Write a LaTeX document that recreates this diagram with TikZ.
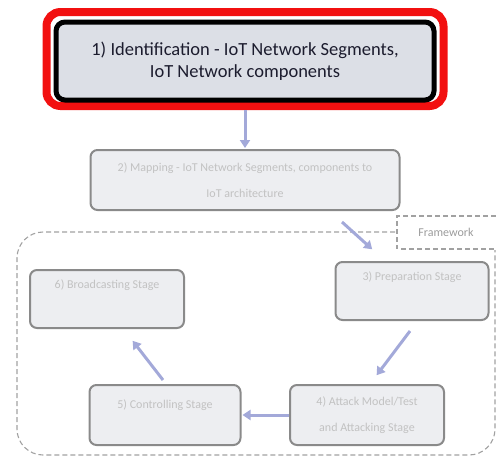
\documentclass[tikz,border=0pt]{standalone}
\usepackage{fontspec}
\setmainfont{Carlito}
\usetikzlibrary{arrows.meta}
\definecolor{boxfill}{HTML}{EDEEF1}
\definecolor{topfill}{HTML}{DCDFE6}
\definecolor{boxline}{HTML}{8A8A8A}
\definecolor{fadetext}{HTML}{C2C2C2}
\definecolor{flowcol}{HTML}{A3A9D9}
\definecolor{topred}{HTML}{F21010}
\definecolor{toptext}{HTML}{1C1C2E}
\tikzset{
  stagebox/.style={draw=boxline, line width=2pt, fill=boxfill, rounded corners=7pt,
    align=center, text=fadetext, font=\fontsize{12}{26}\selectfont, inner sep=0pt},
  flow/.style={draw=flowcol, line width=3pt, -{Triangle[length=8pt,width=10pt]}, shorten >=1pt},
  frameline/.style={draw=boxline!80, line width=1.1pt, dash pattern=on 5pt off 3pt},
}
\begin{document}
\begin{tikzpicture}[x=1pt,y=-1pt]
  \useasboundingbox (0,0) rectangle (496,459);

  % top stage, outlined in red and black
  \node[draw=topred, line width=8pt, rounded corners=14pt, minimum width=397pt, minimum height=94pt]
    (outer) at (245,59) {};
  \node[draw=black, line width=5pt, fill=topfill, rounded corners=9pt, minimum width=378pt,
    minimum height=78pt, align=center, text=toptext, font=\fontsize{18.5}{22}\selectfont]
    (ident) at (245,61) {1) Identification - IoT Network Segments,\\IoT Network components};

  % remaining stages
  \node[stagebox, minimum width=309pt, minimum height=60pt] (mapping) at (245,180)
    {2) Mapping - IoT Network Segments, components to\\IoT architecture};
  \node[stagebox, minimum width=153pt, minimum height=58pt, text depth=30pt] (prep) at (412,291)
    {3) Preparation Stage};
  \node[stagebox, minimum width=154pt, minimum height=60pt] (attack) at (367,415)
    {4) Attack Model/Test\\and Attacking Stage};
  \node[stagebox, minimum width=151pt, minimum height=60pt, text depth=22pt] (control) at (165,415)
    {5) Controlling Stage};
  \node[stagebox, minimum width=154pt, minimum height=58pt, text depth=30pt] (broad) at (107,299)
    {6) Broadcasting Stage};

  % framework boundary with its tab
  \coordinate (fa) at (395,232);
  \coordinate (fb) at (495,250);
  \draw[frameline, rounded corners=26pt] (fa) -- (17,232) -- (17,455) -- (495,455) -- (fb);
  \draw[frameline] (496,216) -- (397,216) -- (397,249);
  \draw[frameline] (401,249) -- (496,249);
  \node[text=fadetext!80!black, font=\fontsize{12}{13}\selectfont] (fw) at (446,232) {Framework};

  % flow between stages
  \draw[flow] (outer.south) -- (mapping.north);
  \draw[flow] (342,222) -- (373,250);
  \draw[flow] (410,331) -- (376,376);
  \draw[flow] (attack.west) -- (control.east);
  \draw[flow] (163,380) -- (132,340);
\end{tikzpicture}
\end{document}
